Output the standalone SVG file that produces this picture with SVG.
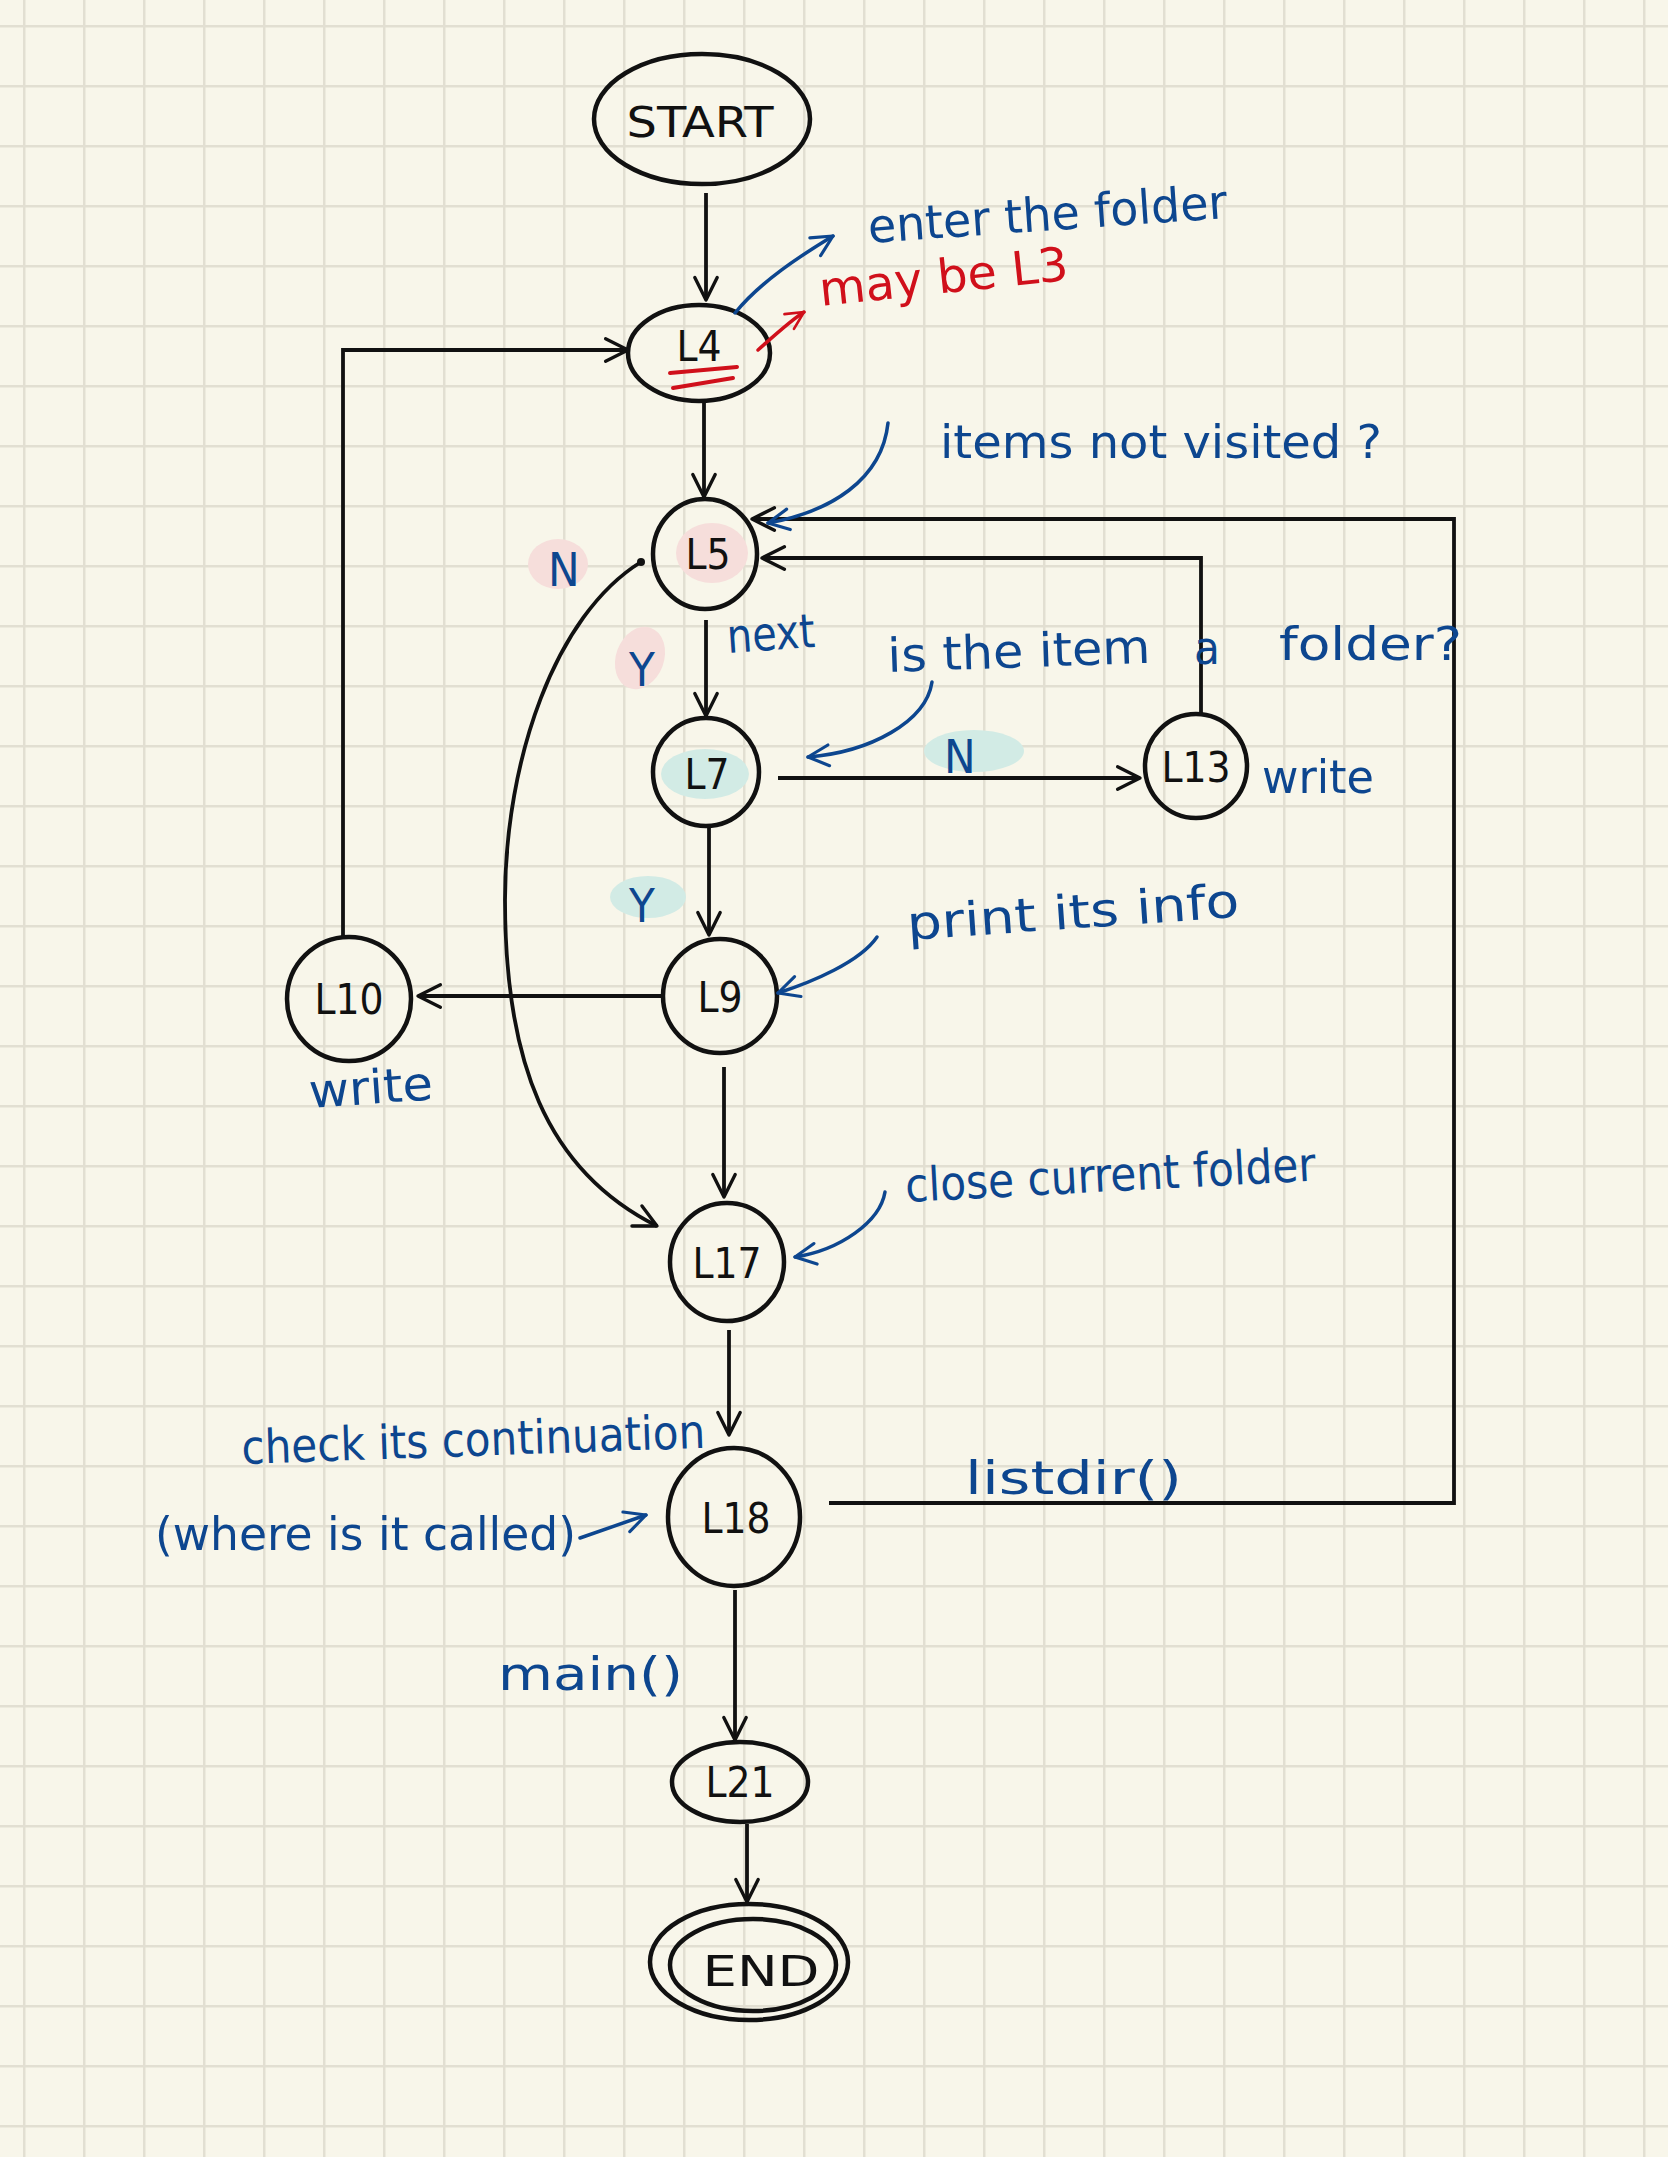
<svg xmlns="http://www.w3.org/2000/svg" width="1668" height="2157" viewBox="0 0 1668 2157">
<defs>
<pattern id="grid" x="23" y="25" width="60" height="60" patternUnits="userSpaceOnUse">
<rect x="0" y="0" width="60" height="2.5" fill="#e2dfd2"/>
<rect x="0" y="0" width="2.5" height="60" fill="#e2dfd2"/>
</pattern>
<marker id="ah" viewBox="0 0 20 20" refX="18" refY="10" markerWidth="28" markerHeight="28" markerUnits="userSpaceOnUse" orient="auto">
<path d="M2,2 L18,10 L2,18" fill="none" stroke="#111" stroke-width="2.4" stroke-linecap="round" stroke-linejoin="round"/>
</marker>
<marker id="ahb" viewBox="0 0 20 20" refX="18" refY="10" markerWidth="26" markerHeight="26" markerUnits="userSpaceOnUse" orient="auto">
<path d="M2,2 L18,10 L2,18" fill="none" stroke="#0d468f" stroke-width="2.4" stroke-linecap="round" stroke-linejoin="round"/>
</marker>
<marker id="ahr" viewBox="0 0 20 20" refX="18" refY="10" markerWidth="22" markerHeight="22" markerUnits="userSpaceOnUse" orient="auto">
<path d="M2,2 L18,10 L2,18" fill="none" stroke="#d0101b" stroke-width="2.4" stroke-linecap="round" stroke-linejoin="round"/>
</marker>
</defs>
<style>
.node{fill:none;stroke:#111;stroke-width:4.5}
.lbl{font-family:"Liberation Sans Narrow","DejaVu Sans Condensed","Liberation Sans",sans-serif;font-size:42px;fill:#111;text-anchor:middle}
.edge{fill:none;stroke:#111;stroke-width:3.8;stroke-linejoin:miter}
.note{font-family:"Liberation Sans Narrow","DejaVu Sans Condensed","Liberation Sans",sans-serif;font-size:47px;fill:#0d468f}
.red{fill:#d0101b}
.barrow{fill:none;stroke:#0d468f;stroke-width:3.5;stroke-linecap:round}
.pink{fill:#f6dedb}
.teal{fill:#d2ebe5}
</style>
<rect x="0" y="0" width="1668" height="2157" fill="#f8f6ea"/>
<rect x="0" y="0" width="1668" height="2157" fill="url(#grid)"/>

<!-- highlights -->
<ellipse class="pink" cx="712" cy="553" rx="36" ry="30"/>
<ellipse class="pink" cx="558" cy="564" rx="30" ry="25"/>
<ellipse class="pink" cx="640" cy="658" rx="24" ry="32" transform="rotate(20 640 658)"/>
<ellipse class="teal" cx="705" cy="774" rx="44" ry="25"/>
<ellipse class="teal" cx="974" cy="751" rx="50" ry="21"/>
<ellipse class="teal" cx="648" cy="897" rx="38" ry="21"/>

<g id="connectors">
<path class="edge" d="M706,193 V300" marker-end="url(#ah)"/>
<path class="edge" d="M704,402 V497" marker-end="url(#ah)"/>
<path class="edge" d="M706,620 V716" marker-end="url(#ah)"/>
<path class="edge" d="M778,778 H1140" marker-end="url(#ah)"/>
<path class="edge" d="M709,827 V935" marker-end="url(#ah)"/>
<path class="edge" d="M663,996 H418" marker-end="url(#ah)"/>
<path class="edge" d="M343,937 V350 H628" marker-end="url(#ah)"/>
<path class="edge" d="M1201,713 V558 H762" marker-end="url(#ah)"/>
<path class="edge" d="M829,1503 H1454 V519 H752" marker-end="url(#ah)"/>
<path class="edge" d="M724,1067 V1197" marker-end="url(#ah)"/>
<path class="edge" d="M641,562 C555,615 505,760 505,900 C505,1060 545,1170 657,1226" marker-end="url(#ah)"/>
<circle cx="641" cy="562" r="4" fill="#111"/>
<path class="edge" d="M729,1330 V1435" marker-end="url(#ah)"/>
<path class="edge" d="M735,1590 V1740" marker-end="url(#ah)"/>
<path class="edge" d="M747,1824 V1902" marker-end="url(#ah)"/>
</g>

<g id="node-start">
<ellipse class="node" cx="702" cy="119" rx="108" ry="65"/>
<text class="lbl" x="700" y="137" font-size="48" textLength="147" lengthAdjust="spacingAndGlyphs">START</text>
</g>
<g id="node-L4">
<ellipse class="node" cx="699" cy="353" rx="71" ry="48"/>
<text class="lbl" x="699" y="361">L4</text>
<path d="M670,373 L737,367 M673,388 L733,378" stroke="#d0101b" stroke-width="4" stroke-linecap="round"/>
</g>
<g id="node-L5">
<ellipse class="node" cx="705" cy="554" rx="52" ry="55"/>
<text class="lbl" x="708" y="569">L5</text>
</g>
<g id="node-L7">
<ellipse class="node" cx="706" cy="772" rx="53" ry="54"/>
<text class="lbl" x="707" y="789">L7</text>
</g>
<g id="node-L13">
<ellipse class="node" cx="1196" cy="766" rx="51" ry="52"/>
<text class="lbl" x="1196" y="782">L13</text>
</g>
<g id="node-L9">
<ellipse class="node" cx="720" cy="996" rx="57" ry="57"/>
<text class="lbl" x="720" y="1012">L9</text>
</g>
<g id="node-L10">
<ellipse class="node" cx="349" cy="999" rx="62" ry="62"/>
<text class="lbl" x="349" y="1014">L10</text>
</g>
<g id="node-L17">
<ellipse class="node" cx="727" cy="1262" rx="57" ry="59"/>
<text class="lbl" x="727" y="1278">L17</text>
</g>
<g id="node-L18">
<ellipse class="node" cx="734" cy="1517" rx="66" ry="69"/>
<text class="lbl" x="736" y="1533">L18</text>
</g>
<g id="node-L21">
<ellipse class="node" cx="740" cy="1782" rx="68" ry="40"/>
<text class="lbl" x="740" y="1797">L21</text>
</g>
<g id="node-end">
<ellipse class="node" cx="749" cy="1962" rx="99" ry="58"/>
<ellipse class="node" cx="753" cy="1965" rx="83" ry="46"/>
<text class="lbl" x="761" y="1986" font-size="52" textLength="117" lengthAdjust="spacingAndGlyphs">END</text>
</g>

<g id="annotations">
<path class="barrow" d="M735,313 C760,282 800,256 833,236" marker-end="url(#ahb)"/>
<text class="note" x="869" y="243" transform="rotate(-4 869 243)" textLength="360" lengthAdjust="spacingAndGlyphs">enter the folder</text>
<path d="M758,350 C775,335 790,321 804,312" fill="none" stroke="#d0101b" stroke-width="3.5" stroke-linecap="round" marker-end="url(#ahr)"/>
<text class="note red" x="821" y="306" transform="rotate(-6 821 306)" textLength="250" lengthAdjust="spacingAndGlyphs">may be L3</text>
<path class="barrow" d="M888,423 C882,480 830,512 768,523" marker-end="url(#ahb)"/>
<text class="note" x="940" y="458" font-size="50" textLength="442" lengthAdjust="spacingAndGlyphs">items not visited ?</text>
<text class="note" x="548" y="586" font-size="46">N</text>
<text class="note" x="728" y="653" transform="rotate(-4 728 653)" textLength="88" lengthAdjust="spacingAndGlyphs">next</text>
<text class="note" x="629" y="686" font-size="46">Y</text>
<path class="barrow" d="M932,682 C926,722 870,752 808,757" marker-end="url(#ahb)"/>
<text class="note" x="888" y="672" font-size="50" transform="rotate(-2 888 672)" textLength="263" lengthAdjust="spacingAndGlyphs">is the item</text>
<text class="note" x="1194" y="664" font-size="54">a</text>
<text class="note" x="1279" y="660" font-size="62" textLength="183" lengthAdjust="spacingAndGlyphs">folder?</text>
<text class="note" x="944" y="773" font-size="46">N</text>
<text class="note" x="1262" y="793" textLength="112" lengthAdjust="spacingAndGlyphs">write</text>
<text class="note" x="629" y="922" font-size="44">Y</text>
<path class="barrow" d="M877,937 C860,962 812,982 778,993" marker-end="url(#ahb)"/>
<text class="note" x="908" y="940" font-size="50" transform="rotate(-4 908 940)" textLength="333" lengthAdjust="spacingAndGlyphs">print its info</text>
<text class="note" x="310" y="1108" transform="rotate(-4 310 1108)" textLength="124" lengthAdjust="spacingAndGlyphs">write</text>
<path class="barrow" d="M885,1192 C880,1222 840,1250 795,1257" marker-end="url(#ahb)"/>
<text class="note" x="906" y="1202" transform="rotate(-3 906 1202)" textLength="411" lengthAdjust="spacingAndGlyphs">close current folder</text>
<text class="note" x="242" y="1464" transform="rotate(-2 242 1464)" textLength="464" lengthAdjust="spacingAndGlyphs">check its continuation</text>
<text class="note" x="155" y="1550" textLength="421" lengthAdjust="spacingAndGlyphs">(where is it called)</text>
<path class="barrow" d="M580,1538 L646,1515" marker-end="url(#ahb)"/>
<text class="note" x="965" y="1494" textLength="217" lengthAdjust="spacingAndGlyphs">listdir()</text>
<text class="note" x="498" y="1690" textLength="185" lengthAdjust="spacingAndGlyphs">main()</text>
</g>
</svg>
